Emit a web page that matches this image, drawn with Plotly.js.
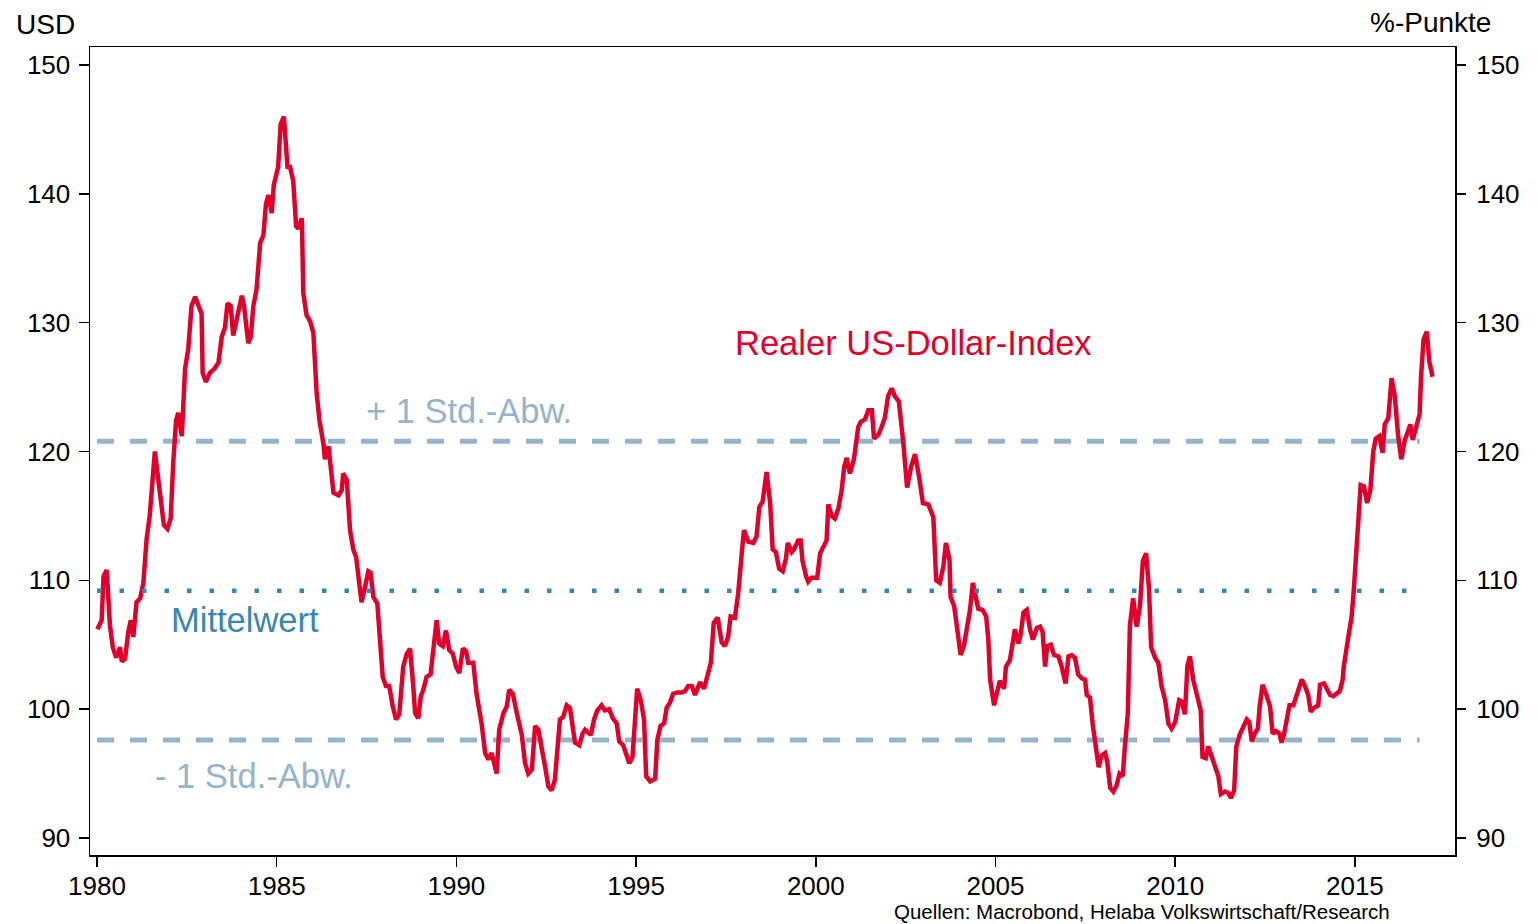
<!DOCTYPE html>
<html>
<head>
<meta charset="utf-8">
<script src="https://cdn.plot.ly/plotly-3.0.1.min.js"></script>
<style>
  html, body { margin: 0; padding: 0; background: #ffffff; }
  #chart { width: 1538px; height: 924px; }
</style>
</head>
<body>
<div id="chart"></div>
<script>
// ---- Data ----
const years = [
  1980.01,1980.13,1980.18,1980.27,1980.36,1980.44,1980.53,1980.64,1980.69,1980.78,1980.87,1980.94,
  1981.01,1981.10,1981.20,1981.29,1981.38,1981.47,1981.61,1981.71,1981.80,1981.86,1981.96,
  1982.05,1982.12,1982.20,1982.26,1982.36,1982.45,1982.54,1982.63,1982.73,1982.91,1982.94,
  1983.03,1983.14,1983.26,1983.38,1983.47,1983.56,1983.63,1983.72,1983.79,1983.89,
  1984.03,1984.09,1984.21,1984.28,1984.35,1984.44,1984.54,1984.63,1984.70,1984.77,1984.86,1984.92,
  1985.04,1985.11,1985.20,1985.30,1985.37,1985.46,1985.54,1985.60,1985.70,1985.74,1985.83,1985.93,
  1986.02,1986.11,1986.19,1986.30,1986.34,1986.44,1986.58,1986.72,1986.81,1986.85,1986.95,
  1987.04,1987.13,1987.21,1987.30,1987.36,1987.46,1987.55,1987.61,1987.69,1987.80,1987.87,1987.95,
  1988.04,1988.13,1988.23,1988.32,1988.41,1988.52,1988.62,1988.71,1988.80,1988.85,1988.94,
  1989.01,1989.08,1989.17,1989.28,1989.38,1989.45,1989.52,1989.62,1989.71,1989.80,1989.90,1989.99,
  1990.08,1990.18,1990.27,1990.33,1990.47,1990.56,1990.70,1990.80,1990.89,1990.98,
  1991.12,1991.19,1991.31,1991.40,1991.47,1991.57,1991.68,1991.82,1991.91,
  1992.00,1992.10,1992.19,1992.28,1992.37,1992.47,1992.56,1992.65,1992.74,1992.81,1992.88,1992.97,
  1993.07,1993.16,1993.23,1993.30,1993.42,1993.51,1993.58,1993.67,1993.74,1993.83,1993.92,
  1994.04,1994.13,1994.25,1994.35,1994.46,1994.53,1994.64,1994.74,1994.81,1994.90,1994.97,
  1995.03,1995.13,1995.22,1995.28,1995.39,1995.53,1995.59,1995.68,1995.78,1995.85,1995.94,
  1996.03,1996.15,1996.27,1996.36,1996.45,1996.55,1996.64,1996.78,1996.89,1996.98,
  1997.08,1997.16,1997.27,1997.38,1997.47,1997.56,1997.63,1997.75,1997.84,1997.94,
  1998.00,1998.12,1998.26,1998.35,1998.43,1998.52,1998.63,1998.73,1998.80,1998.89,1998.98,
  1999.08,1999.17,1999.22,1999.33,1999.39,1999.51,1999.58,1999.63,1999.73,1999.79,1999.88,
  2000.04,2000.12,2000.23,2000.30,2000.35,2000.44,2000.53,2000.63,2000.72,2000.79,2000.86,2000.95,
  2001.06,2001.18,2001.25,2001.37,2001.46,2001.56,2001.62,2001.74,2001.83,2001.92,
  2002.01,2002.11,2002.20,2002.31,2002.44,2002.54,2002.65,2002.76,2002.87,2002.98,
  2003.13,2003.27,2003.35,2003.45,2003.55,2003.62,2003.72,2003.75,2003.85,2003.94,
  2004.03,2004.12,2004.20,2004.29,2004.37,2004.43,2004.52,2004.64,2004.74,2004.80,2004.85,2004.96,
  2005.05,2005.12,2005.24,2005.29,2005.40,2005.50,2005.54,2005.64,2005.70,2005.78,2005.87,2005.96,
  2006.04,2006.15,2006.24,2006.31,2006.38,2006.44,2006.54,2006.63,2006.75,2006.84,2006.95,
  2007.03,2007.12,2007.21,2007.30,2007.40,2007.49,2007.54,2007.63,2007.70,2007.80,2007.87,2007.95,
  2008.05,2008.11,2008.19,2008.28,2008.37,2008.45,2008.54,2008.60,2008.68,2008.74,2008.83,2008.93,
  2009.02,2009.10,2009.19,2009.27,2009.33,2009.44,2009.53,2009.62,2009.72,2009.81,2009.90,
  2010.00,2010.11,2010.18,2010.27,2010.34,2010.41,2010.50,2010.61,2010.71,2010.76,2010.85,2010.92,
  2011.01,2011.11,2011.20,2011.27,2011.39,2011.48,2011.55,2011.64,2011.70,2011.79,2011.90,2011.99,
  2012.06,2012.13,2012.21,2012.30,2012.35,2012.43,2012.54,2012.64,2012.71,2012.80,2012.90,2012.96,
  2013.03,2013.10,2013.18,2013.29,2013.38,2013.52,2013.61,2013.70,2013.77,2013.86,2013.98,
  2014.03,2014.14,2014.23,2014.31,2014.40,2014.49,2014.58,2014.66,2014.69,2014.81,2014.91,2014.97,
  2015.04,2015.12,2015.16,2015.25,2015.34,2015.43,2015.51,2015.58,2015.68,2015.77,2015.83,2015.93,
  2016.02,2016.11,2016.20,2016.29,2016.39,2016.48,2016.54,2016.61,2016.71,2016.80,2016.84,2016.91,
  2017.00,2017.07,2017.16
];
const dollarIndex = [
  106.2,106.9,110.3,110.8,106.5,104.8,104.0,104.8,103.7,103.9,106.0,106.9,
  105.6,108.3,108.6,109.8,113.2,115.1,120.0,117.8,116.3,114.3,114.0,
  114.8,119.1,122.4,123.0,121.2,126.4,128.0,131.3,132.0,130.7,126.1,
  125.4,126.1,126.4,126.9,128.9,129.6,131.5,131.3,129.0,130.4,
  132.1,131.3,128.4,128.9,131.3,132.6,136.2,136.8,139.2,139.9,138.5,140.7,
  142.1,145.4,146.0,142.1,142.1,141.0,137.5,137.3,138.1,132.3,130.6,130.1,
  129.2,124.6,122.4,120.6,119.4,120.4,116.8,116.6,117.0,118.3,117.8,
  113.9,112.4,111.8,109.3,108.3,109.5,110.7,110.6,108.7,108.2,105.1,102.5,
  101.8,101.8,100.2,99.2,99.6,103.3,104.3,104.7,101.8,99.7,99.3,
  101.0,101.5,102.5,102.7,105.4,106.9,105.1,104.9,106.1,104.6,104.3,103.3,
  102.8,104.7,104.5,103.6,103.6,101.2,98.9,96.6,96.1,96.6,
  95.0,98.4,99.7,100.2,101.5,101.2,99.7,98.0,95.8,
  95.0,95.3,98.7,98.4,96.8,95.5,94.0,93.7,94.5,96.8,99.2,99.4,
  100.3,100.1,98.7,97.4,97.2,98.1,98.4,98.1,98.0,99.2,99.9,
  100.3,99.9,100.0,99.3,98.9,97.5,97.2,96.3,95.8,96.3,99.2,
  101.6,100.7,99.2,94.8,94.4,94.6,97.6,98.7,98.9,100.1,100.5,
  101.2,101.3,101.3,101.4,101.8,101.8,101.1,102.1,101.6,102.5,
  103.6,106.7,107.1,105.2,104.9,105.6,107.2,107.1,109.0,112.1,
  113.9,113.0,112.9,113.4,115.7,116.1,118.4,116.0,112.4,112.2,110.9,
  110.7,111.7,112.9,112.2,112.4,113.1,113.1,111.5,110.3,109.9,110.2,
  110.2,112.1,112.8,113.1,115.9,115.0,114.8,115.6,117.0,118.8,119.5,118.3,
  119.4,121.9,122.3,122.5,123.2,123.2,121.0,121.3,121.9,122.6,
  124.3,124.9,124.3,123.9,120.5,117.2,118.8,119.8,118.1,116.0,
  115.9,114.9,110.0,109.8,111.1,112.9,111.6,108.7,108.0,105.9,
  104.2,104.9,106.4,107.7,109.8,109.0,107.8,107.7,107.2,105.4,102.3,100.3,
  101.5,102.2,101.6,103.3,103.8,105.4,106.2,105.1,105.8,107.5,107.7,106.2,
  105.4,106.3,106.4,106.0,103.3,104.9,105.0,104.2,104.1,103.3,102.0,
  104.1,104.2,104.0,102.7,102.4,102.3,101.1,100.9,98.9,96.8,95.5,96.4,
  96.6,95.9,93.9,93.6,94.1,95.0,94.8,97.1,99.6,106.5,108.6,106.4,
  108.0,111.5,112.1,109.4,104.8,104.0,103.6,101.8,100.7,98.9,98.5,
  99.0,100.7,100.6,99.6,103.4,104.1,102.3,101.1,99.9,96.3,96.2,97.1,
  96.3,95.5,94.8,93.4,93.6,93.5,93.1,93.7,97.1,98.0,98.7,99.2,
  99.0,97.5,98.1,98.5,100.2,101.9,101.1,100.2,98.1,98.3,98.1,97.4,
  98.1,99.2,100.3,100.3,101.1,102.3,101.8,101.1,99.8,100.1,100.3,
  101.9,102.0,101.6,101.1,101.0,101.2,101.4,102.3,103.3,105.5,107.2,109.3,
  112.6,115.2,117.4,117.3,116.0,117.0,120.0,121.0,121.2,119.9,122.1,122.6,
  125.7,124.3,121.3,119.4,120.9,121.6,122.1,120.9,121.8,122.9,125.8,128.7,
  129.3,127.0,125.8
];
const meanValue = 109.2;          // Mittelwert
const stdDev = 11.6;              // 1 Std.-Abw.
const bandYears = [1980.0, 2016.8];
const xTickVals = [1980, 1985, 1990, 1995, 2000, 2005, 2010, 2015];
const xTickText = ['1980', '1985', '1990', '1995', '2000', '2005', '2010', '2015'];
const yTickVals = [90, 100, 110, 120, 130, 140, 150];
const yTickText = ['90', '100', '110', '120', '130', '140', '150'];

// ---- Styling ----
const RED = 'rgb(226,0,43)';
const LIGHT = '#94B4CC';
const MEANC = '#3A86B0';
const FONT = 'Liberation Sans, Arial, sans-serif';

const W = 1538, H = 924;
const M = {l: 90, r: 83, t: 47, b: 69};
const PW = W - M.l - M.r, PH = H - M.t - M.b;
const px = v => (v - M.l) / PW;
const py = v => (H - M.b - v) / PH;

const traces = [
  {x: bandYears, y: [meanValue + stdDev, meanValue + stdDev], type: 'scatter', mode: 'lines',
   line: {color: LIGHT, width: 5, dash: '17px,16px'}, hoverinfo: 'skip', showlegend: false},
  {x: bandYears, y: [meanValue - stdDev, meanValue - stdDev], type: 'scatter', mode: 'lines',
   line: {color: LIGHT, width: 5, dash: '17px,16px'}, hoverinfo: 'skip', showlegend: false},
  {x: bandYears, y: [meanValue, meanValue], type: 'scatter', mode: 'lines', yaxis: 'y2',
   line: {color: MEANC, width: 4.5, dash: '4.5px,18px'}, hoverinfo: 'skip', showlegend: false},
  {x: years, y: dollarIndex, type: 'scatter', mode: 'lines',
   line: {color: RED, width: 4.5}, showlegend: false}
];

const yRange = [88.68, 151.40];
const axisCommon = {
  showgrid: false, zeroline: false, showline: true, linecolor: '#000', linewidth: 1.5,
  ticks: 'outside', ticklen: 10, tickwidth: 1.5, tickcolor: '#000',
  tickfont: {family: FONT, size: 26, color: '#000'}
};

const layout = {
  width: W, height: H, margin: M,
  paper_bgcolor: '#fff', plot_bgcolor: '#fff',
  showlegend: false,
  xaxis: Object.assign({}, axisCommon, {
    range: [1979.805, 2017.785], tickmode: 'array', tickvals: xTickVals, ticktext: xTickText,
    mirror: true, ticklabelstandoff: -3
  }),
  yaxis: Object.assign({}, axisCommon, {
    range: yRange, tickmode: 'array', tickvals: yTickVals, ticktext: yTickText, mirror: true,
    ticklabelstandoff: 3
  }),
  yaxis2: Object.assign({}, axisCommon, {
    range: yRange, tickmode: 'array', tickvals: yTickVals, ticktext: yTickText,
    overlaying: 'y', side: 'right', anchor: 'x', showline: false, ticklabelstandoff: 5
  }),
  annotations: [
    {text: 'USD', xref: 'paper', yref: 'paper', x: px(14), y: py(24), xanchor: 'left', yanchor: 'middle',
     showarrow: false, font: {family: FONT, size: 28, color: '#000'}},
    {text: '%-Punkte', xref: 'paper', yref: 'paper', x: px(1493), y: py(23), xanchor: 'right', yanchor: 'middle',
     showarrow: false, font: {family: FONT, size: 28, color: '#000'}},
    {text: 'Realer US-Dollar-Index', xref: 'paper', yref: 'paper', x: px(733), y: py(343), xanchor: 'left', yanchor: 'middle',
     showarrow: false, font: {family: FONT, size: 34.5, color: RED}},
    {text: '+ 1 Std.-Abw.', xref: 'paper', yref: 'paper', x: px(364), y: py(411), xanchor: 'left', yanchor: 'middle',
     showarrow: false, font: {family: FONT, size: 34.5, color: LIGHT}},
    {text: 'Mittelwert', xref: 'paper', yref: 'paper', x: px(169), y: py(620), xanchor: 'left', yanchor: 'middle',
     showarrow: false, font: {family: FONT, size: 34.5, color: MEANC}},
    {text: '- 1 Std.-Abw.', xref: 'paper', yref: 'paper', x: px(153), y: py(776), xanchor: 'left', yanchor: 'middle',
     showarrow: false, font: {family: FONT, size: 34.5, color: LIGHT}},
    {text: 'Quellen: Macrobond, Helaba Volkswirtschaft/Research', xref: 'paper', yref: 'paper',
     x: px(1392), y: py(911), xanchor: 'right', yanchor: 'middle',
     showarrow: false, font: {family: FONT, size: 20.5, color: '#000'}}
  ]
};

Plotly.newPlot('chart', traces, layout, {displayModeBar: false, staticPlot: true});
</script>
</body>
</html>
